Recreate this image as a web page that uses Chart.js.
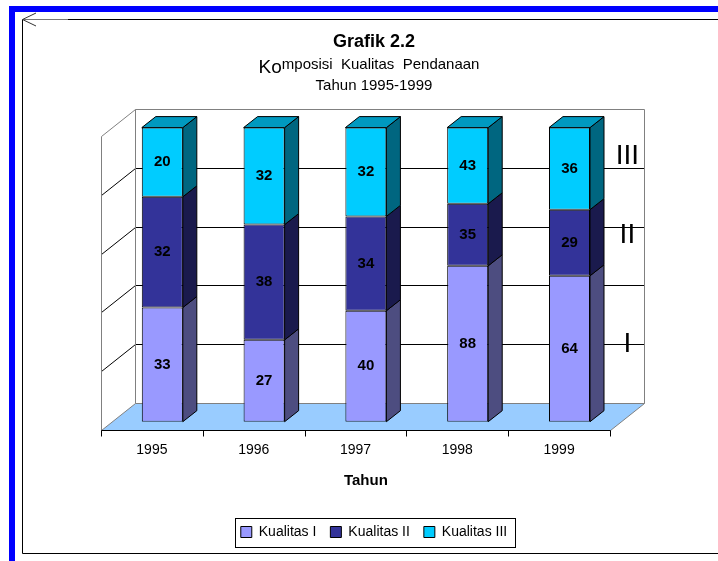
<!DOCTYPE html>
<html>
<head>
<meta charset="utf-8">
<script src="https://cdn.jsdelivr.net/npm/chart.js@4.4.0/dist/chart.umd.min.js"></script>
<style>
  html, body { margin: 0; padding: 0; background: #fff; }
  #wrap { position: relative; width: 718px; height: 561px; overflow: hidden; }
  #frame, #grafik { position: absolute; left: 0; top: 0; }
</style>
</head>
<body>
<div id="wrap">
  <svg id="frame" width="718" height="561">
    <rect x="9" y="6" width="709" height="6" fill="#0000FF"/>
    <rect x="9" y="6" width="6" height="555" fill="#0000FF"/>
    <path d="M68 19.5 H718 M22.5 19.5 V553.5 H718" stroke="#000" fill="none"/>
    <path d="M22.5 19.5 H68" stroke="#777" fill="none"/>
    <path d="M36 13 L22.5 19.5 L36 26" stroke="#333" fill="none"/>
  </svg>
  <canvas id="grafik" width="718" height="561"></canvas>
</div>
<script>
// data
var tahun = ["1995", "1996", "1997", "1998", "1999"];
var kualitas1 = [33, 27, 40, 88, 64];
var kualitas2 = [32, 38, 34, 35, 29];
var kualitas3 = [20, 32, 32, 43, 36];
var namaSeri = ["Kualitas I", "Kualitas II", "Kualitas III"];
var labelTingkat = ["I", "II", "III"];

var total = tahun.map(function (t, i) { return kualitas1[i] + kualitas2[i] + kualitas3[i]; });
function persen(arr) {
    return arr.map(function (v, i) { return v / total[i] * 100; });
}

var FONT = "Arial, 'Liberation Sans', sans-serif";

// 3d offsets (bar plane -> front plane, bar plane -> back wall, bar depth)
var FRONT = { dx: -10.4, dy: 8.3 };
var BACK = { dx: 23.6, dy: -18.7 };
var DEPTH = { dx: 14, dy: -11 };

function line(ctx, x1, y1, x2, y2, color) {
    ctx.beginPath();
    ctx.moveTo(x1, y1);
    ctx.lineTo(x2, y2);
    ctx.strokeStyle = color;
    ctx.lineWidth = 1;
    ctx.stroke();
}
function poly(ctx, pts, fill, stroke) {
    ctx.beginPath();
    ctx.moveTo(pts[0][0], pts[0][1]);
    for (var i = 1; i < pts.length; i++) ctx.lineTo(pts[i][0], pts[i][1]);
    ctx.closePath();
    if (fill) { ctx.fillStyle = fill; ctx.fill(); }
    if (stroke) { ctx.strokeStyle = stroke; ctx.lineWidth = 1; ctx.stroke(); }
}

var kotak3d = {
    id: "kotak3d",
    beforeDatasetsDraw: function (chart) {
        var ctx = chart.ctx, a = chart.chartArea, ys = chart.scales.y;
        var L = a.left, R = a.right;
        var T = ys.getPixelForValue(100), B = ys.getPixelForValue(0);
        var bl = Math.round(L + BACK.dx) + 0.5, br = Math.round(R + BACK.dx) + 0.5;
        var bt = Math.round(T + BACK.dy) + 0.5, bb = Math.round(B + BACK.dy) + 0.5;
        var fl = Math.round(L + FRONT.dx) + 0.5, fr = Math.round(R + FRONT.dx) + 0.5;
        var ft = Math.round(T + FRONT.dy) + 0.5, fb = Math.round(B + FRONT.dy) + 0.5;
        ctx.save();
        // gridlines on back wall and left wall
        [20, 40, 60, 80].forEach(function (v) {
            var py = Math.round(ys.getPixelForValue(v) + BACK.dy) + 0.5;
            line(ctx, bl, py, br, py, "#000");
            line(ctx, fl, py - BACK.dy + FRONT.dy, bl, py, "#000");
        });
        // floor
        poly(ctx, [[fl, fb], [fr, fb], [br, bb], [bl, bb]], "#99CCFF", "#808080");
        // walls
        line(ctx, bl, bt, br, bt, "#808080");
        line(ctx, br, bt, br, bb, "#808080");
        line(ctx, bl, bt, bl, bb, "#808080");
        line(ctx, fl, ft, bl, bt, "#808080");
        line(ctx, fl, ft, fl, fb, "#808080");
        // category axis on front edge
        line(ctx, fl, fb, fr, fb, "#000");
        var n = tahun.length;
        for (var i = 0; i <= n; i++) {
            var tx = Math.round(L + FRONT.dx + i * (R - L) / n) + 0.5;
            line(ctx, tx, fb, tx, fb + 6, "#000");
        }
        ctx.restore();
    },
    afterDatasetsDraw: function (chart) {
        var ctx = chart.ctx, ys = chart.scales.y, a = chart.chartArea;
        var sets = chart.data.datasets;
        ctx.save();
        sets.forEach(function (ds, di) {
            chart.getDatasetMeta(di).data.forEach(function (el, i) {
                var p = el.getProps(["x", "y", "base", "width"], true);
                var l = p.x - p.width / 2, r = p.x + p.width / 2;
                poly(ctx, [[r, p.y], [r + DEPTH.dx, p.y + DEPTH.dy], [r + DEPTH.dx, p.base + DEPTH.dy], [r, p.base]], ds.sideColor, "#000");
                if (di === sets.length - 1) {
                    poly(ctx, [[l, p.y], [l + DEPTH.dx, p.y + DEPTH.dy], [r + DEPTH.dx, p.y + DEPTH.dy], [r, p.y]], ds.topColor, "#000");
                }
                ctx.fillStyle = "#000";
                ctx.font = "bold 15px " + FONT;
                ctx.textAlign = "center";
                ctx.textBaseline = "middle";
                ctx.fillText(String(ds.nilai[i]), p.x, (p.y + p.base) / 2);
            });
        });
        // level labels at the right side
        var posisi = [20, 57, 84];
        ctx.font = "28px " + FONT;
        ctx.fillStyle = "#000";
        ctx.textAlign = "center";
        ctx.textBaseline = "middle";
        labelTingkat.forEach(function (t, i) {
            ctx.fillText(t, a.right + 7, ys.getPixelForValue(posisi[i]) + BACK.dy);
        });
        ctx.restore();
    },
    afterDraw: function (chart) {
        var ctx = chart.ctx;
        // first subtitle line: "Ko" set larger and lower, as in the original
        var tb = chart.titleBlock;
        var cx = (tb.left + tb.right) / 2 - 5;
        var base = tb.bottom + 16;
        ctx.save();
        ctx.fillStyle = "#000";
        ctx.textBaseline = "alphabetic";
        ctx.textAlign = "left";
        ctx.font = "19px " + FONT;
        var w1 = ctx.measureText("Ko").width;
        ctx.font = "15px " + FONT;
        var sisa = "mposisi  Kualitas  Pendanaan";
        var w2 = ctx.measureText(sisa).width;
        var x0 = cx - (w1 + w2) / 2;
        ctx.font = "19px " + FONT;
        ctx.fillText("Ko", x0, base + 4.5);
        ctx.font = "15px " + FONT;
        ctx.fillText(sisa, x0 + w1, base);

        // legend border
        var lg = chart.legend, hb = lg.legendHitBoxes;
        if (hb && hb.length) {
            var left = Math.min.apply(null, hb.map(function (h) { return h.left; }));
            var right = Math.max.apply(null, hb.map(function (h) { return h.left + h.width; }));
            var cy = hb[0].top + hb[0].height / 2;
            ctx.strokeStyle = "#000";
            ctx.lineWidth = 1;
            ctx.strokeRect(Math.round(left - 6) + 0.5, Math.round(cy - 14.5) + 0.5, Math.round(right - left + 14), 29);
        }
        ctx.restore();
    }
};

var ctx = document.getElementById("grafik").getContext("2d");
var grafik = new Chart(ctx, {
    type: "bar",
    data: {
        labels: tahun,
        datasets: [{
                label: namaSeri[0],
                data: persen(kualitas1),
                nilai: kualitas1,
                backgroundColor: "#9999FF",
                sideColor: "#4D4D80",
                topColor: "#7A7ACC"
            },
            {
                label: namaSeri[1],
                data: persen(kualitas2),
                nilai: kualitas2,
                backgroundColor: "#333399",
                sideColor: "#1A1A4D",
                topColor: "#29297A"
            },
            {
                label: namaSeri[2],
                data: persen(kualitas3),
                nilai: kualitas3,
                backgroundColor: "#00CCFF",
                sideColor: "#006680",
                topColor: "#0099C0"
            }
        ]
    },
    options: {
        responsive: false,
        animation: false,
        events: [],
        datasets: {
            bar: {
                borderColor: "#000",
                borderWidth: 1,
                borderSkipped: false,
                categoryPercentage: 1,
                barPercentage: 0.403
            }
        },
        layout: { padding: { left: 111.4, right: 81.4, top: 0, bottom: 12 } },
        scales: {
            x: {
                stacked: true,
                grid: { display: false, drawTicks: false },
                border: { display: false },
                ticks: { color: "#000", font: { family: FONT, size: 14 }, padding: 20, labelOffset: -10.4 },
                title: {
                    display: true,
                    text: "Tahun",
                    color: "#000",
                    font: { family: FONT, size: 15, weight: "bold" },
                    padding: { top: 0, bottom: 21 }
                },
                afterFit: function (s) { s.height = 89.3; }
            },
            y: {
                stacked: true,
                min: 0,
                max: 100,
                position: "right",
                grid: { display: false, drawTicks: false },
                border: { display: false },
                ticks: { display: false },
                afterFit: function (s) { s.width = 16.2; }
            }
        },
        plugins: {
            title: {
                display: true,
                text: "Grafik 2.2",
                color: "#000",
                font: { family: FONT, size: 18, weight: "bold", lineHeight: 1.2 },
                padding: { top: 31, bottom: 0 }
            },
            subtitle: {
                display: true,
                text: ["", "Tahun 1995-1999"],
                color: "#000",
                font: { family: FONT, size: 15, lineHeight: 1.4667 },
                padding: { top: 0, bottom: 31 }
            },
            legend: {
                position: "bottom",
                labels: {
                    color: "#000",
                    boxWidth: 11,
                    boxHeight: 11,
                    padding: 14,
                    font: { family: FONT, size: 14 }
                }
            },
            tooltip: { enabled: false }
        }
    },
    plugins: [kotak3d]
});
</script>
</body>
</html>
